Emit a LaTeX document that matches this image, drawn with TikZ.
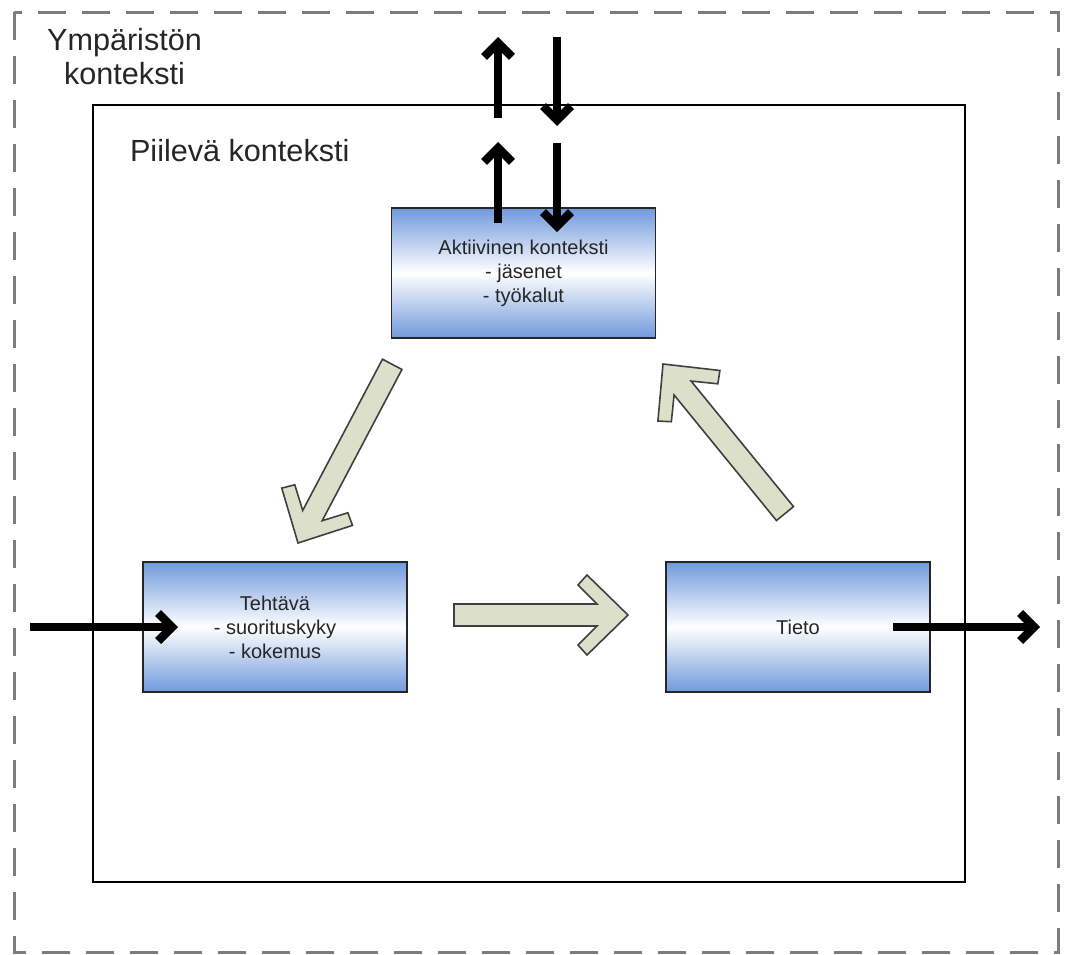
\documentclass[tikz,border=0pt]{standalone}
\usepackage{fontspec}
\setmainfont{Liberation Sans}
\usetikzlibrary{arrows.meta}
\definecolor{boxblue}{RGB}{112,153,220}
\definecolor{arrowfill}{RGB}{220,224,202}
\definecolor{framegray}{RGB}{125,125,125}
\tikzset{
  ctxbox/.style={draw=black!85, line width=0.75pt, top color=boxblue,
    bottom color=boxblue, middle color=white, inner sep=0pt,
    minimum width=132pt, minimum height=65pt},
  boxtext/.style={align=center, text=black!85,
    font=\fontsize{10}{12}\selectfont},
  ctxlabel/.style={align=center, text=black!85,
    font=\fontsize{15.3}{17}\selectfont},
  flow/.style={line width=4.2pt, -{Straight Barb[length=7pt,width=14pt]}},
  bigarrow/.style={draw=black!75, fill=arrowfill, line width=0.8pt}
}
\newcommand{\blockarrow}[3]{%
  \draw[bigarrow, shift={#1}, rotate=#2]
    (0,0) -- (-41,40) -- (-50,30) -- (-31,11) -- (-#3,11)
    -- (-#3,-11) -- (-31,-11) -- (-50,-30) -- (-41,-40) -- cycle;}
\begin{document}
\begin{tikzpicture}[x=0.5pt,y=-0.5pt]
  \useasboundingbox (0,0) rectangle (1071,954);
  \draw[framegray, line width=1.5pt, dash pattern=on 14pt off 8pt]
    (14,12) rectangle (1058,952);
  \node[ctxlabel] (ymparisto) at (124.5,57) {Ympäristön\\konteksti};
  \draw[line width=0.75pt] (93,105) rectangle (965,882);
  \node[ctxlabel, anchor=base west] (piileva) at (123,161) {Piilevä konteksti};

  \node[ctxbox] (aktiivinen) at (523.5,273) {};
  \node[boxtext] (aktiivinenteksti) at (aktiivinen)
    {Aktiivinen konteksti\\- jäsenet\\- työkalut};
  \node[ctxbox] (tehtava) at (275,627) {};
  \node[boxtext] (tehtavateksti) at (tehtava)
    {Tehtävä\\- suorituskyky\\- kokemus};
  \node[ctxbox] (tieto) at (798,627) {};
  \node[boxtext] (tietoteksti) at (tieto) {Tieto};

  \blockarrow{(298,543)}{-117.8}{202}
  \blockarrow{(628,615)}{0}{174}
  \blockarrow{(663,364)}{129.2}{193}

  \coordinate (sisaan) at (30,627);
  \coordinate (sisaankarki) at (178,627);
  \coordinate (ulos) at (893,627);
  \coordinate (uloskarki) at (1040,627);
  \coordinate (ylos1) at (498,118);
  \coordinate (ylos1karki) at (498,37);
  \coordinate (alas1) at (557,37);
  \coordinate (alas1karki) at (557,126);
  \coordinate (ylos2) at (498,223);
  \coordinate (ylos2karki) at (498,142);
  \coordinate (alas2) at (557,143);
  \coordinate (alas2karki) at (557,232);
  \draw[flow] (sisaan) -- (sisaankarki);
  \draw[flow] (ulos) -- (uloskarki);
  \draw[flow] (ylos1) -- (ylos1karki);
  \draw[flow] (alas1) -- (alas1karki);
  \draw[flow] (ylos2) -- (ylos2karki);
  \draw[flow] (alas2) -- (alas2karki);
\end{tikzpicture}
\end{document}
